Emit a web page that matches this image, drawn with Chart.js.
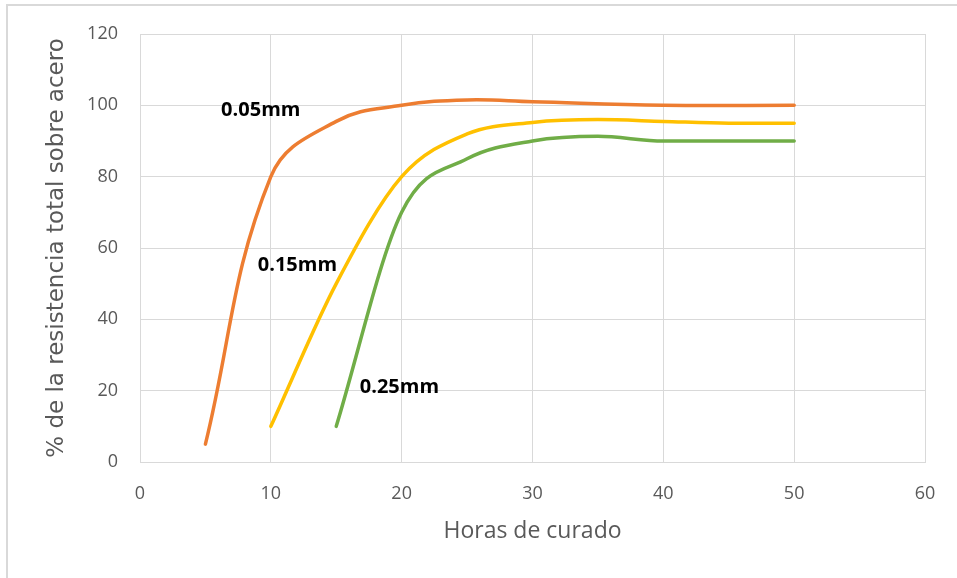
<!DOCTYPE html>
<html>
<head>
<meta charset="utf-8">
<script src="https://cdn.jsdelivr.net/npm/chart.js@4"></script>
<style>
  html, body { margin: 0; padding: 0; background: #ffffff; }
  #wrap { position: relative; width: 957px; height: 578px; overflow: hidden; }
  #frameTop { position: absolute; left: 6px; top: 4px; width: 951px; height: 2px; background: #d9d9d9; }
  #frameLeft { position: absolute; left: 6px; top: 4px; width: 2px; height: 574px; background: #d9d9d9; }
  canvas { position: absolute; left: 0; top: 0; }
</style>
</head>
<body>
<div id="wrap">
  <canvas id="chart" width="957" height="578"></canvas>
  <div id="frameTop"></div>
  <div id="frameLeft"></div>
</div>
<script>
// Curing hours and percentage of total strength for each steel thickness
const hours005 = [5, 10, 15, 20, 25, 30, 40, 50];
const strength005 = [5, 80, 95.5, 100, 101.5, 101, 100, 100];

const hours015 = [10, 15, 20, 25, 30, 35, 40, 45, 50];
const strength015 = [10, 50, 80, 92, 95.2, 96, 95.5, 95, 95];

const hours025 = [15, 20, 25, 30, 35, 40, 50];
const strength025 = [10, 70, 85, 90, 91.3, 90, 90];

const seriesNames = ['0.05mm', '0.15mm', '0.25mm'];

// Series name labels, anchored in data units (left edge, vertical middle)
const nameLabels = [
  { text: '0.05mm', x: 6.2, y: 98.6 },
  { text: '0.15mm', x: 9.0, y: 55.2 },
  { text: '0.25mm', x: 16.8, y: 21.0 }
];

const toPoints = (xs, ys) => xs.map((x, i) => ({ x: x, y: ys[i] }));

const gridColor = '#d9d9d9';
const textColor = '#595959';
const baseFont = "'Open Sans', 'Liberation Sans', sans-serif";

const lineStyle = (color, mode) => ({
  borderColor: color,
  backgroundColor: color,
  borderWidth: 3.5,
  pointRadius: 0,
  tension: 0.4,
  cubicInterpolationMode: mode,
  fill: false,
  borderCapStyle: 'round',
  borderJoinStyle: 'round'
});

const seriesLabelPlugin = {
  id: 'seriesLabels',
  afterDatasetsDraw(chart) {
    const { ctx, scales: { x, y } } = chart;
    ctx.save();
    ctx.fillStyle = '#000000';
    ctx.font = "bold 20px " + baseFont;
    ctx.textAlign = 'left';
    ctx.textBaseline = 'middle';
    nameLabels.forEach(l => {
      ctx.fillText(l.text, x.getPixelForValue(l.x), y.getPixelForValue(l.y));
    });
    ctx.restore();
  }
};

new Chart(document.getElementById('chart'), {
  type: 'line',
  data: {
    datasets: [
      Object.assign({ label: seriesNames[0], data: toPoints(hours005, strength005) }, lineStyle('#ed7d31', 'default')),
      Object.assign({ label: seriesNames[1], data: toPoints(hours015, strength015) }, lineStyle('#ffc000', 'monotone')),
      Object.assign({ label: seriesNames[2], data: toPoints(hours025, strength025) }, lineStyle('#70ad47', 'monotone'))
    ]
  },
  options: {
    responsive: false,
    devicePixelRatio: 1,
    animation: false,
    layout: { padding: { top: 34, right: 32, left: 0, bottom: 0 } },
    plugins: {
      legend: { display: false },
      tooltip: { enabled: false }
    },
    scales: {
      x: {
        type: 'linear',
        min: 0,
        max: 60,
        afterFit(scale) { scale.height = 116; },
        ticks: { stepSize: 10, color: textColor, padding: 21, font: { family: baseFont, size: 18 } },
        grid: { color: gridColor, lineWidth: 1, drawTicks: false },
        border: { color: gridColor, width: 1 },
        title: {
          display: true,
          text: 'Horas de curado',
          color: textColor,
          font: { family: baseFont, size: 23 },
          padding: { top: 0, bottom: 33 }
        }
      },
      y: {
        min: 0,
        max: 120,
        afterFit(scale) { scale.width = 140; },
        ticks: { stepSize: 20, color: textColor, padding: 22, font: { family: baseFont, size: 18 } },
        grid: { color: gridColor, lineWidth: 1, drawTicks: false },
        border: { color: gridColor, width: 1 },
        title: {
          display: true,
          text: '% de la resistencia total sobre acero',
          color: textColor,
          font: { family: "'DejaVu Sans', sans-serif", size: 23 },
          padding: { top: 43, bottom: 0 }
        }
      }
    }
  },
  plugins: [seriesLabelPlugin]
});
</script>
</body>
</html>
